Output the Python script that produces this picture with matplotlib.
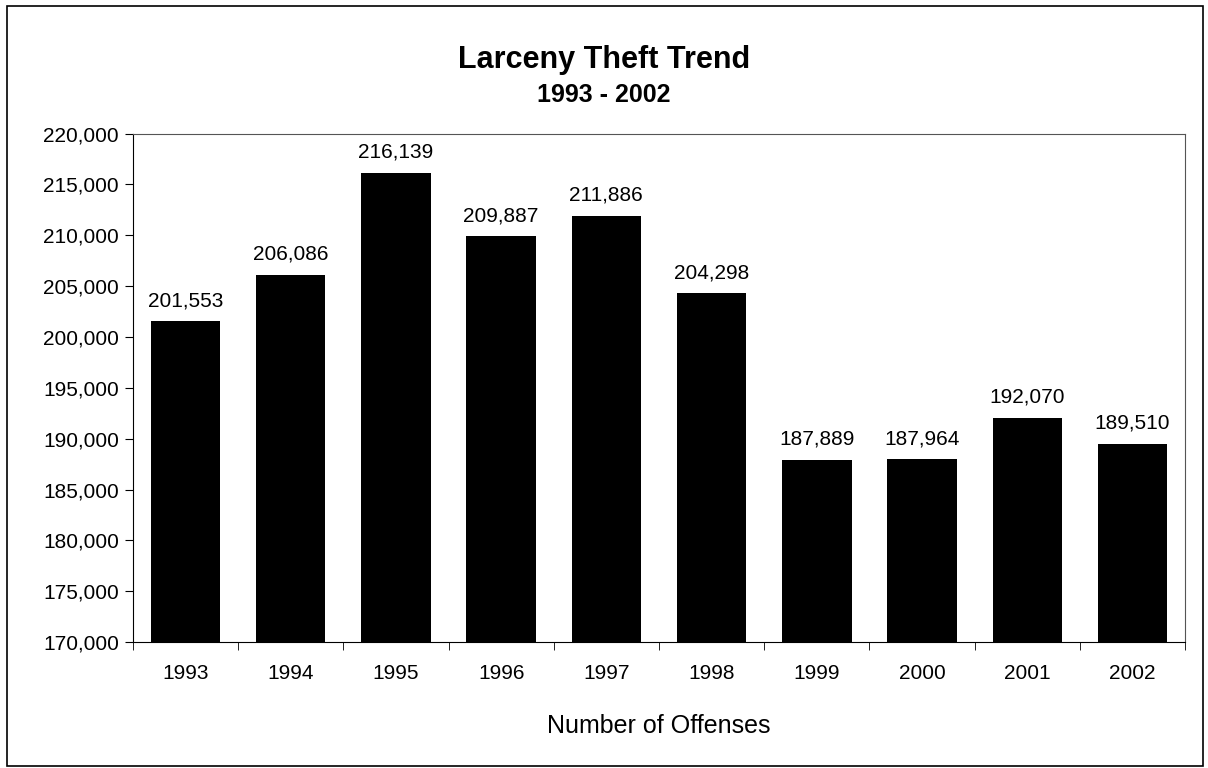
import numpy as np
import matplotlib.pyplot as plt
from matplotlib.patches import Rectangle
from matplotlib.ticker import FuncFormatter

years = ["1993", "1994", "1995", "1996", "1997", "1998", "1999", "2000", "2001", "2002"]
offenses = [201553, 206086, 216139, 209887, 211886, 204298, 187889, 187964, 192070, 189510]

plt.rcParams['font.family'] = ['Liberation Sans', 'DejaVu Sans']

fig = plt.figure(figsize=(12.08, 7.68), dpi=100)
# outer chart border
fig.patches.append(Rectangle((0.006, 0.002), 0.99, 0.99, transform=fig.transFigure,
                             fill=False, edgecolor='black', linewidth=1.2))
ax = fig.add_axes([0.110, 0.164, 0.871, 0.662])

x = np.arange(len(years))
ax.bar(x, offenses, width=0.66, color='black')
for xi, v in zip(x, offenses):
    ax.text(xi, v + 1100, "{:,}".format(v), ha='center', va='bottom', fontsize=15)

ax.set_xlim(-0.5, len(years) - 0.5)
ax.set_ylim(170000, 220000)
ax.set_yticks(np.arange(170000, 220001, 5000))
ax.yaxis.set_major_formatter(FuncFormatter(lambda v, p: "{:,}".format(int(v))))
ax.set_xticks(x)
ax.set_xticklabels(years)
ax.set_xticks(np.arange(-0.5, len(years)), minor=True)
ax.tick_params(axis='x', which='major', length=0, pad=16, labelsize=15)
ax.tick_params(axis='x', which='minor', length=6, direction='out', color='black')
ax.tick_params(axis='y', length=6, direction='out', labelsize=15, pad=4)

for s in ['top', 'right']:
    ax.spines[s].set_color('#555555')
ax.set_xlabel("Number of Offenses", fontsize=18, labelpad=22)
fig.text(0.5, 0.9115, "Larceny Theft Trend", ha='center', fontsize=22, fontweight='bold')
fig.text(0.5, 0.867, "1993 - 2002", ha='center', fontsize=18, fontweight='bold')

plt.savefig("out.png")
